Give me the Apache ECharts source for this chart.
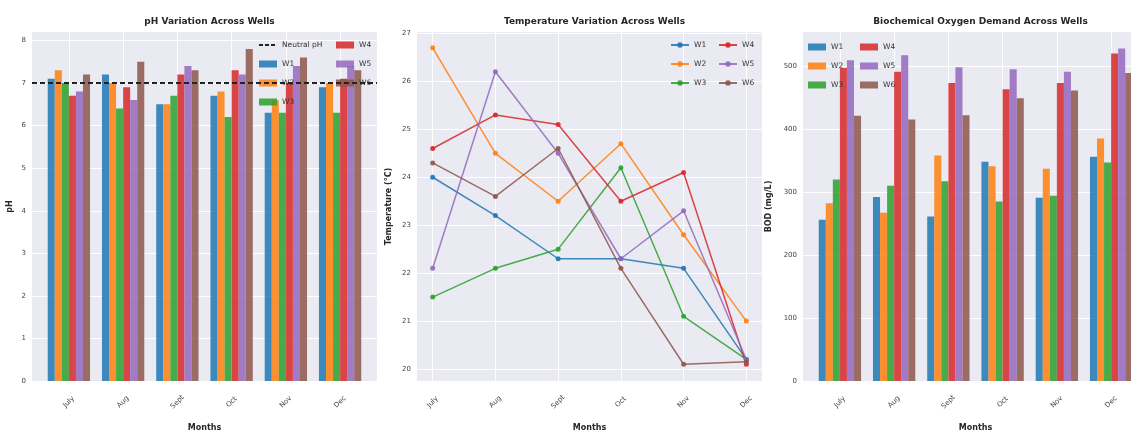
<!DOCTYPE html>
<html>
<head>
<meta charset="utf-8">
<script src="https://cdn.jsdelivr.net/npm/echarts@6/dist/echarts.min.js"></script>
<style>html,body{margin:0;padding:0;background:#fff}#c{width:1131px;height:434px}</style>
</head>
<body>
<div id="c"></div>
<script>
const MONTHS = ['July', 'Aug', 'Sept', 'Oct', 'Nov', 'Dec'];
const WELLS = ['W1', 'W2', 'W3', 'W4', 'W5', 'W6'];
const NEUTRAL_PH = 7;

const PH_W1 = [7.1, 7.2, 6.5, 6.7, 6.3, 6.9];
const PH_W2 = [7.3, 7.0, 6.5, 6.8, 6.6, 7.0];
const PH_W3 = [7.0, 6.4, 6.7, 6.2, 6.3, 6.3];
const PH_W4 = [6.7, 6.9, 7.2, 7.3, 7.0, 7.1];
const PH_W5 = [6.8, 6.6, 7.4, 7.2, 7.4, 7.4];
const PH_W6 = [7.2, 7.5, 7.3, 7.8, 7.6, 7.3];

const TEMP_W1 = [24.0, 23.2, 22.3, 22.3, 22.1, 20.2];
const TEMP_W2 = [26.7, 24.5, 23.5, 24.7, 22.8, 21.0];
const TEMP_W3 = [21.5, 22.1, 22.5, 24.2, 21.1, 20.2];
const TEMP_W4 = [24.6, 25.3, 25.1, 23.5, 24.1, 20.1];
const TEMP_W5 = [22.1, 26.2, 24.5, 22.3, 23.3, 20.2];
const TEMP_W6 = [24.3, 23.6, 24.6, 22.1, 20.1, 20.15];

const BOD_W1 = [256, 292, 261, 348, 291, 356];
const BOD_W2 = [282, 267, 358, 341, 337, 385];
const BOD_W3 = [320, 310, 317, 285, 294, 347];
const BOD_W4 = [497, 491, 473, 463, 473, 520];
const BOD_W5 = [509, 517, 498, 495, 491, 528];
const BOD_W6 = [421, 415, 422, 449, 461, 489];

const PH_TICKS = [0, 1, 2, 3, 4, 5, 6, 7, 8];
const TEMP_TICKS = [20, 21, 22, 23, 24, 25, 26, 27];
const BOD_TICKS = [0, 100, 200, 300, 400, 500];
const X_TICKS = [0, 1, 2, 3, 4, 5];

const COLORS = ['#1f77b4', '#ff7f0e', '#2ca02c', '#d62728', '#9467bd', '#8c564b'];
const PH = [PH_W1, PH_W2, PH_W3, PH_W4, PH_W5, PH_W6];
const TEMP = [TEMP_W1, TEMP_W2, TEMP_W3, TEMP_W4, TEMP_W5, TEMP_W6];
const BOD = [BOD_W1, BOD_W2, BOD_W3, BOD_W4, BOD_W5, BOD_W6];

const FONT = 'DejaVu Sans';
const BG = '#eaeaf2';
const GRIDS = [
  { left: 32, top: 32, width: 345, height: 349 },
  { left: 417, top: 32, width: 345, height: 349 },
  { left: 803, top: 32, width: 345, height: 349 }
];
const TITLES = ['pH Variation Across Wells', 'Temperature Variation Across Wells', 'Biochemical Oxygen Demand Across Wells'];
const YNAMES = ['pH', 'Temperature (°C)', 'BOD (mg/L)'];
const YGAPS = [18, 24, 30];
// invisible suffixes keep the three panels' series distinct for the legends
const SUFFIX = ['', '\u200b', '\u200b\u200b'];

function pairs(vals) { return vals.map((v, i) => [i, v]); }

const grid = GRIDS.map(g => Object.assign({ show: true, backgroundColor: BG, borderWidth: 0, containLabel: false, outerBoundsMode: 'none' }, g));

const title = GRIDS.map((g, i) => ({
  text: TITLES[i], left: g.left + g.width / 2, top: 12, textAlign: 'center',
  textStyle: { fontFamily: FONT, fontSize: 9, fontWeight: 'bold', color: '#262626' }
}));

const xRanges = [[-0.68, 5.68], [-0.25, 5.25], [-0.68, 5.68]];
const xAxis = GRIDS.map((g, i) => ({
  type: 'value', gridIndex: i, min: xRanges[i][0], max: xRanges[i][1],
  name: 'Months', nameLocation: 'middle', nameGap: 43, nameMoveOverlap: false,
  nameTextStyle: { fontFamily: FONT, fontSize: 8, fontWeight: 'bold', color: '#262626' },
  axisLine: { show: false }, axisTick: { show: false, customValues: X_TICKS },
  axisLabel: { customValues: X_TICKS, formatter: v => MONTHS[Math.round(v)], rotate: 45, align: 'center', verticalAlign: 'middle', margin: 21,
    fontFamily: FONT, fontSize: 7, color: '#444' },
  splitLine: { show: true, lineStyle: { color: '#fff', width: 1 } }
}));

const yRanges = [[0, 8.2], [19.75, 27.03], [0, 554]];
const yTicks = [PH_TICKS, TEMP_TICKS, BOD_TICKS];
const yAxis = GRIDS.map((g, i) => ({
  type: 'value', gridIndex: i, min: yRanges[i][0], max: yRanges[i][1],
  name: YNAMES[i], nameLocation: 'middle', nameGap: YGAPS[i], nameMoveOverlap: false,
  nameTextStyle: { fontFamily: FONT, fontSize: 8, fontWeight: 'bold', color: '#262626' },
  axisLine: { show: false }, axisTick: { show: false, customValues: yTicks[i] },
  axisLabel: { customValues: yTicks[i], margin: 6, fontFamily: FONT, fontSize: 7, color: '#444' },
  splitLine: { show: true, lineStyle: { color: '#fff', width: 1 } }
}));

const series = [];
WELLS.forEach((w, k) => {
  series.push({
    type: 'bar', name: w + SUFFIX[0], xAxisIndex: 0, yAxisIndex: 0, data: pairs(PH[k]),
    barGap: '0%', barCategoryGap: '22%',
    itemStyle: { color: COLORS[k], opacity: 0.85 }
  });
});
series.push({
  type: 'line', name: 'Neutral pH', xAxisIndex: 0, yAxisIndex: 0, data: [], symbol: 'none', z: 5,
  lineStyle: { color: '#222', type: [4, 2], width: 2 }, itemStyle: { color: '#222' },
  markLine: { silent: true, symbol: 'none', z: 5, label: { show: false },
    lineStyle: { color: '#222', type: [5, 3], width: 2 }, data: [{ yAxis: NEUTRAL_PH }] }
});
WELLS.forEach((w, k) => {
  series.push({
    type: 'line', name: w + SUFFIX[1], xAxisIndex: 1, yAxisIndex: 1, data: pairs(TEMP[k]),
    symbol: 'circle', symbolSize: 5,
    lineStyle: { color: COLORS[k], width: 1.5, opacity: 0.85 },
    itemStyle: { color: COLORS[k], opacity: 0.9 }
  });
});
WELLS.forEach((w, k) => {
  series.push({
    type: 'bar', name: w + SUFFIX[2], xAxisIndex: 2, yAxisIndex: 2, data: pairs(BOD[k]),
    barGap: '0%', barCategoryGap: '22%',
    itemStyle: { color: COLORS[k], opacity: 0.85 }
  });
});

const legText = { fontFamily: FONT, fontSize: 7.5, color: '#333' };
function leg(left, top, names, panel, icon) {
  return { orient: 'vertical', left: left, top: top, itemWidth: 18, itemHeight: 7, itemGap: 11, padding: 0,
    selectedMode: false, textStyle: legText,
    data: names.map(n => (icon ? { name: n + SUFFIX[panel], icon: icon } : { name: n + SUFFIX[panel] })) };
}
const legend = [
  leg(258, 41, ['W1', 'W2', 'W3'], 0, 'rect'),
  leg(336, 41, ['W4', 'W5', 'W6'], 0, 'rect'),
  leg(670, 41, ['W1', 'W2', 'W3'], 1, null),
  leg(718, 41, ['W4', 'W5', 'W6'], 1, null),
  leg(808, 43, ['W1', 'W2', 'W3'], 2, 'rect'),
  leg(860, 43, ['W4', 'W5', 'W6'], 2, 'rect')
];
legend[0].data = [{ name: 'Neutral pH', itemStyle: { color: 'rgba(0,0,0,0)', borderWidth: 0 }, lineStyle: { type: [4, 2], width: 2, color: '#222' } }].concat(legend[0].data);

const chart = echarts.init(document.getElementById('c'), null, { renderer: 'canvas' });
chart.setOption({ animation: false, backgroundColor: '#fff', title, grid, xAxis, yAxis, legend, series });
</script>
</body>
</html>
